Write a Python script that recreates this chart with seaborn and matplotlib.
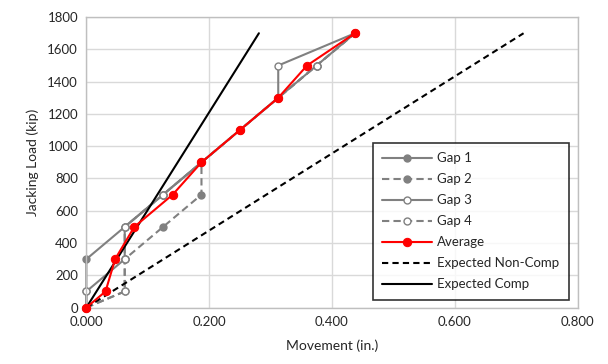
import numpy as np
import pandas as pd
import matplotlib
matplotlib.use("Agg")
import matplotlib.pyplot as plt
import seaborn as sns

# jacking load steps (kip) and measured movement (in.)
load = [0, 100, 300, 500, 700, 900, 1100, 1300, 1500, 1700]
gap1 = [0, 0, 0, 0.0625, 0.125, 0.1875, 0.25, 0.3125, 0.375, 0.4375]
gap2 = [0, 0.0625, 0.0625, 0.125, 0.1875, 0.1875, 0.25, 0.3125, 0.375, 0.4375]
gap3 = [0, 0, 0.0625, 0.0625, 0.125, 0.1875, 0.25, 0.3125, 0.3125, 0.4375]
gap4 = [0, 0.0625, 0.0625, 0.0625, 0.125, 0.1875, 0.25, 0.3125, 0.375, 0.4375]
avg = [0, 0.03125, 0.046875, 0.078125, 0.140625, 0.1875, 0.25, 0.3125, 0.359375, 0.4375]

exp_load = [0, 1700]
exp_noncomp = [0, 0.712]
exp_comp = [0, 0.281]

sns.set_style("white")
plt.rcParams['font.family'] = ['Lato', 'DejaVu Sans']

fig, ax = plt.subplots(figsize=(6.08, 3.64), dpi=100)
fig.subplots_adjust(left=0.142, right=0.950, top=0.953, bottom=0.155)

gray = "#808080"
series = [
    ("Gap 1", gap1, "-", gray, gray),
    ("Gap 2", gap2, (0, (3.5, 2)), gray, gray),
    ("Gap 3", gap3, "-", gray, "white"),
    ("Gap 4", gap4, (0, (3.5, 2)), gray, "white"),
]
for name, xs, ls, col, fc in series:
    sns.lineplot(x=xs, y=load, ax=ax, sort=False, estimator=None, color=col,
                 linestyle=ls, linewidth=1.5, marker="o", markersize=5,
                 markerfacecolor=fc, markeredgecolor=col, markeredgewidth=1,
                 label=name)

sns.lineplot(x=avg, y=load, ax=ax, sort=False, estimator=None, color="#ff0000",
             linewidth=1.5, marker="o", markersize=6, markeredgecolor="#ff0000",
             label="Average", zorder=5)
sns.lineplot(x=exp_noncomp, y=exp_load, ax=ax, sort=False, estimator=None,
             color="black", linestyle=(0, (3, 2)), linewidth=1.5,
             label="Expected Non-Comp")
sns.lineplot(x=exp_comp, y=exp_load, ax=ax, sort=False, estimator=None,
             color="black", linewidth=1.5, label="Expected Comp")

# markers sit on the axis edge, don't clip them
for ln in ax.lines:
    ln.set_clip_on(False)

ax.set_xlim(0, 0.8)
ax.set_ylim(0, 1800)
ax.set_xticks(np.arange(0, 0.81, 0.2))
ax.set_yticks(np.arange(0, 1801, 200))
ax.xaxis.set_major_formatter(matplotlib.ticker.FormatStrFormatter("%.3f"))
ax.grid(True, color="#d9d9d9", linewidth=1)
ax.set_axisbelow(True)
for s in ax.spines.values():
    s.set_color("#bfbfbf")
    s.set_linewidth(1)
ax.tick_params(axis="both", labelsize=9.5, length=0, pad=6, colors="#262626")
ax.set_xlabel("Movement (in.)", fontsize=10, color="#262626", labelpad=8)
ax.set_ylabel("Jacking Load (kip)", fontsize=10, color="#262626", labelpad=6)

leg = ax.legend(loc="lower right", bbox_to_anchor=(0.995, 0.005), fontsize=9.5,
                frameon=True, fancybox=False, edgecolor="black",
                handlelength=3.8, labelspacing=0.68, borderpad=0.7,
                handletextpad=0.4)
leg.get_frame().set_linewidth(1.2)
leg.set_zorder(10)
for t in leg.get_texts():
    t.set_color("#262626")

fig.savefig("out.png", dpi=100)
